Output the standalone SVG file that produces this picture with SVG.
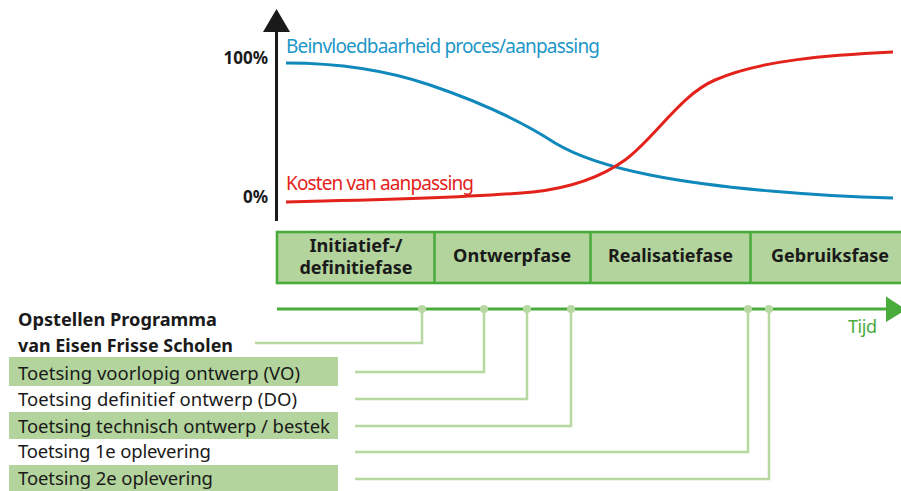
<svg xmlns="http://www.w3.org/2000/svg" width="901" height="491" viewBox="0 0 901 491">
<style>
text{font-family:"Noto Sans","Open Sans","Liberation Sans",sans-serif;}
.lbl{font-size:18.5px;fill:#1a1a1a;}
.bold{font-weight:bold;font-size:17.5px;fill:#1a1a1a;}
.ph{font-weight:bold;font-size:17px;fill:#1a1a1a;text-anchor:middle;}
.pct{font-weight:bold;font-size:17px;fill:#1a1a1a;text-anchor:end;}
.box{fill:#b3d49c;}
.phase{fill:#b3d49c;stroke:#4aab3d;stroke-width:2.6;}
.conn{fill:none;stroke:#b8d8a2;stroke-width:2.5;}
.dot{fill:#b8d8a2;}
</style>
<rect width="901" height="491" fill="#ffffff"/>

<g id="axis">
<line x1="276.5" y1="30" x2="276.5" y2="221" stroke="#1a1a1a" stroke-width="3"/>
<polygon points="276.5,9 263,32 290,32" fill="#1a1a1a"/>
<text class="pct" x="268" y="64">100%</text>
<text class="pct" x="268" y="203">0%</text>
</g>

<g id="curve-beinvloedbaarheid">
<path d="M286,63 C330,63 380,68 430,85 C480,102 520,120 555,143 C580,158 610,167 650,175 C720,189 820,196 893,198" fill="none" stroke="#0f88bb" stroke-width="3"/>
<text x="286" y="53" font-size="19" fill="#1d96c8" textLength="314">Beinvloedbaarheid proces/aanpassing</text>
</g>

<g id="curve-kosten">
<path d="M286,202 C380,200 480,197 533,192 C570,188 600,178 625,160 C655,138 680,95 715,80 C760,60 830,55 893,52" fill="none" stroke="#e3231b" stroke-width="3"/>
<text x="286" y="190" font-size="19" fill="#e3231b" textLength="188">Kosten van aanpassing</text>
</g>

<g id="phases">
<rect class="phase" x="277" y="232" width="630" height="51"/>
<line x1="434.5" y1="232" x2="434.5" y2="283" stroke="#4aab3d" stroke-width="2.6"/>
<line x1="590.5" y1="232" x2="590.5" y2="283" stroke="#4aab3d" stroke-width="2.6"/>
<line x1="750.5" y1="232" x2="750.5" y2="283" stroke="#4aab3d" stroke-width="2.6"/>
<g id="phase-initiatief"><text class="ph" x="356" y="252" textLength="93" lengthAdjust="spacingAndGlyphs">Initiatief-/</text><text class="ph" x="356" y="274" textLength="113" lengthAdjust="spacingAndGlyphs">definitiefase</text></g>
<g id="phase-ontwerp"><text class="ph" x="512" y="262" textLength="118" lengthAdjust="spacingAndGlyphs">Ontwerpfase</text></g>
<g id="phase-realisatie"><text class="ph" x="670.5" y="262" textLength="125" lengthAdjust="spacingAndGlyphs">Realisatiefase</text></g>
<g id="phase-gebruik"><text class="ph" x="830" y="262" textLength="118" lengthAdjust="spacingAndGlyphs">Gebruiksfase</text></g>
</g>

<g id="timeline">
<line x1="277" y1="309" x2="888" y2="309" stroke="#4aab3d" stroke-width="3"/>
<polygon points="886,296.5 886,322 906,309.5" fill="#4aab3d"/>
<text x="848" y="333" font-size="18" fill="#4aab3d" textLength="29">Tijd</text>
</g>

<g id="connectors">
<polyline class="conn" points="422,309 422,343 255,343"/>
<polyline class="conn" points="484,309 484,372 355,372"/>
<polyline class="conn" points="527,309 527,399 355,399"/>
<polyline class="conn" points="571,309 571,426 355,426"/>
<polyline class="conn" points="748,309 748,452 355,452"/>
<polyline class="conn" points="769,309 769,479 355,479"/>
<circle class="dot" cx="422" cy="309" r="4"/>
<circle class="dot" cx="484" cy="309" r="4"/>
<circle class="dot" cx="527" cy="309" r="4"/>
<circle class="dot" cx="571" cy="309" r="4"/>
<circle class="dot" cx="748" cy="309" r="4"/>
<circle class="dot" cx="769" cy="309" r="4"/>
</g>

<g id="label-pve">
<text class="bold" x="18" y="326" textLength="199" lengthAdjust="spacingAndGlyphs">Opstellen Programma</text>
<text class="bold" x="18" y="352" textLength="215" lengthAdjust="spacingAndGlyphs">van Eisen Frisse Scholen</text>
</g>
<g id="label-vo">
<rect class="box" x="9" y="357" width="329" height="29"/>
<text class="lbl" x="18" y="380" textLength="282">Toetsing voorlopig ontwerp (VO)</text>
</g>
<g id="label-do">
<text class="lbl" x="18" y="406" textLength="279">Toetsing definitief ontwerp (DO)</text>
</g>
<g id="label-to">
<rect class="box" x="9" y="412" width="329" height="27"/>
<text class="lbl" x="18" y="433" textLength="312">Toetsing technisch ontwerp / bestek</text>
</g>
<g id="label-1e">
<text class="lbl" x="18" y="458" textLength="193">Toetsing 1e oplevering</text>
</g>
<g id="label-2e">
<rect class="box" x="9" y="465" width="329" height="26"/>
<text class="lbl" x="18" y="485" textLength="195">Toetsing 2e oplevering</text>
</g>
</svg>
